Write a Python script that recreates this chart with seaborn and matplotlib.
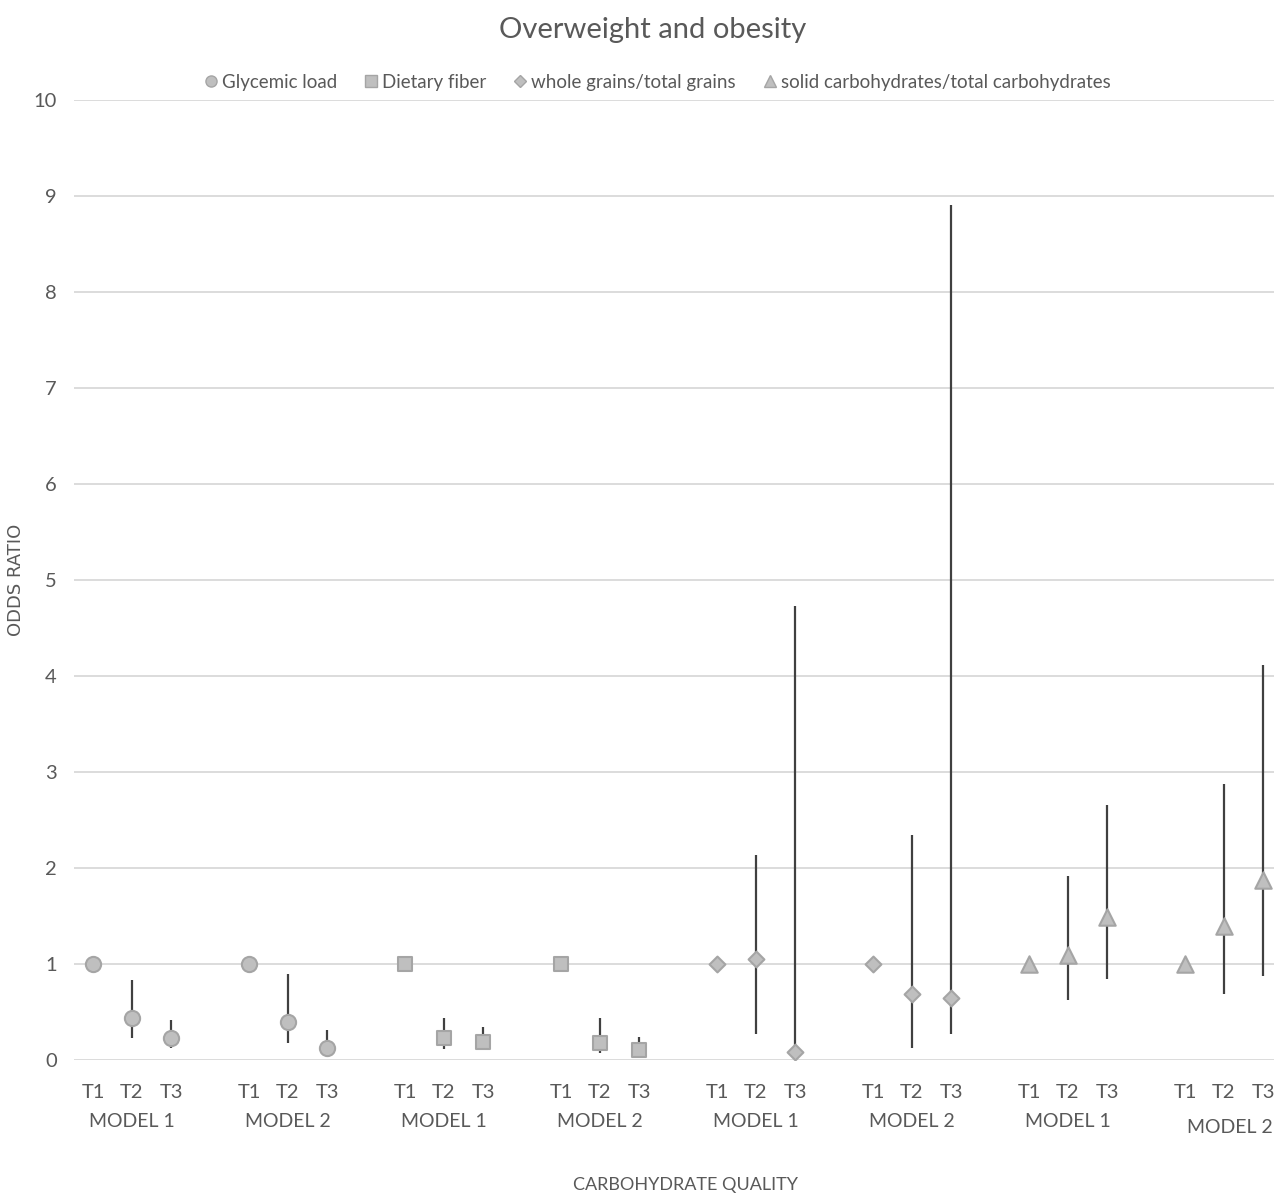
import numpy as np
import pandas as pd
import matplotlib.pyplot as plt
import seaborn as sns

# valeurs
measures = ['Glycemic load', 'Dietary fiber', 'whole grains/total grains',
            'solid carbohydrates/total carbohydrates']
models = ['MODEL 1', 'MODEL 2']
tertiles = ['T1', 'T2', 'T3']

# odds ratio, ordre : mesure -> modèle -> tertile
or_glycemic = [1.00, 0.44, 0.23, 1.00, 0.40, 0.13]
lo_glycemic = [1.00, 0.23, 0.12, 1.00, 0.18, 0.10]
hi_glycemic = [1.00, 0.83, 0.42, 1.00, 0.90, 0.31]

or_fiber = [1.00, 0.23, 0.19, 1.00, 0.18, 0.10]
lo_fiber = [1.00, 0.11, 0.10, 1.00, 0.07, 0.05]
hi_fiber = [1.00, 0.44, 0.34, 1.00, 0.44, 0.24]

or_grains = [1.00, 1.05, 0.08, 1.00, 0.69, 0.65]
lo_grains = [1.00, 0.27, 0.02, 1.00, 0.13, 0.27]
hi_grains = [1.00, 2.14, 4.73, 1.00, 2.34, 8.91]

or_solid = [1.00, 1.09, 1.49, 1.00, 1.40, 1.88]
lo_solid = [1.00, 0.63, 0.84, 1.00, 0.69, 0.87]
hi_solid = [1.00, 1.92, 2.66, 1.00, 2.87, 4.11]

rows = []
series = [(or_glycemic, lo_glycemic, hi_glycemic),
          (or_fiber, lo_fiber, hi_fiber),
          (or_grains, lo_grains, hi_grains),
          (or_solid, lo_solid, hi_solid)]
for m, (vals, los, his) in enumerate(series):
    for k in range(6):
        g = m * 2 + k // 3
        t = k % 3
        rows.append({'Measure': measures[m], 'Model': models[k // 3],
                     'Tertile': tertiles[t], 'pos': g * 4 + t,
                     'OR': vals[k], 'lo': los[k], 'hi': his[k]})
data = pd.DataFrame(rows)

txt = '#595959'
sns.set_style('white')
plt.rcParams['font.family'] = ['Lato', 'DejaVu Sans']

fig = plt.figure(figsize=(12.74, 11.93), dpi=100)
ax = fig.add_axes([73.5 / 1274, 133 / 1193, 1248 / 1274, 960 / 1193])

# intervalles de confiance
ax.vlines(data.pos, data.lo, data.hi, color='#404040', lw=1.6, zorder=2)

markers = {measures[0]: 'o', measures[1]: 's', measures[2]: 'D', measures[3]: '^'}
sizes = {measures[0]: 120, measures[1]: 110, measures[2]: 65, measures[3]: 140}
for m in measures:
    sub = data[data.Measure == m]
    sns.scatterplot(data=sub, x='pos', y='OR', marker=markers[m], s=sizes[m],
                    color='#bfbfbf', edgecolor='#a5a5a5', linewidth=1.5,
                    ax=ax, zorder=3, legend=False)

ax.set_xlim(-0.5, 31.5)
ax.set_ylim(0, 10)
ax.set_yticks(range(0, 11))
ax.yaxis.grid(True, color='#d9d9d9', lw=1.3)
ax.set_axisbelow(True)
for s in ax.spines.values():
    s.set_visible(False)
ax.tick_params(axis='y', length=0, labelsize=14.5, labelcolor=txt, pad=12)
ax.set_xticks(data.pos.unique())
ax.set_xticklabels([tertiles[p % 4] for p in data.pos.unique()])
ax.tick_params(axis='x', length=0, labelsize=14.5, labelcolor=txt, pad=17)
ax.set_xlabel('')
ax.set_ylabel('ODDS RATIO', fontsize=13, color=txt, family='DejaVu Sans')
ax.yaxis.set_label_coords(-0.039, 0.5)

# étiquettes des modèles sous chaque groupe
for g in range(8):
    yy = -0.64 if g < 7 else -0.70
    xx = g * 4 + 1 if g < 7 else g * 4 + 1.15
    ax.text(xx, yy, models[g % 2], ha='center', va='center', fontsize=14,
            color=txt, clip_on=False)

fig.text(0.538, 0.007, 'CARBOHYDRATE QUALITY', ha='center', va='center',
         fontsize=13, color=txt)
fig.suptitle('Overweight and obesity', x=0.512, y=0.986, fontsize=21, color=txt)

handles = [plt.Line2D([], [], marker=markers[m], ls='', color='#bfbfbf',
                      markeredgecolor='#a5a5a5', ms=8 if markers[m] != 'D' else 6.5)
           for m in measures]
fig.legend(handles, measures, loc='center', bbox_to_anchor=(0.515, 0.931), ncol=4,
           frameon=False, fontsize=13.5, labelcolor=txt, handletextpad=0.1,
           columnspacing=1.3, handlelength=1.0)

plt.savefig('out.png', dpi=100)
